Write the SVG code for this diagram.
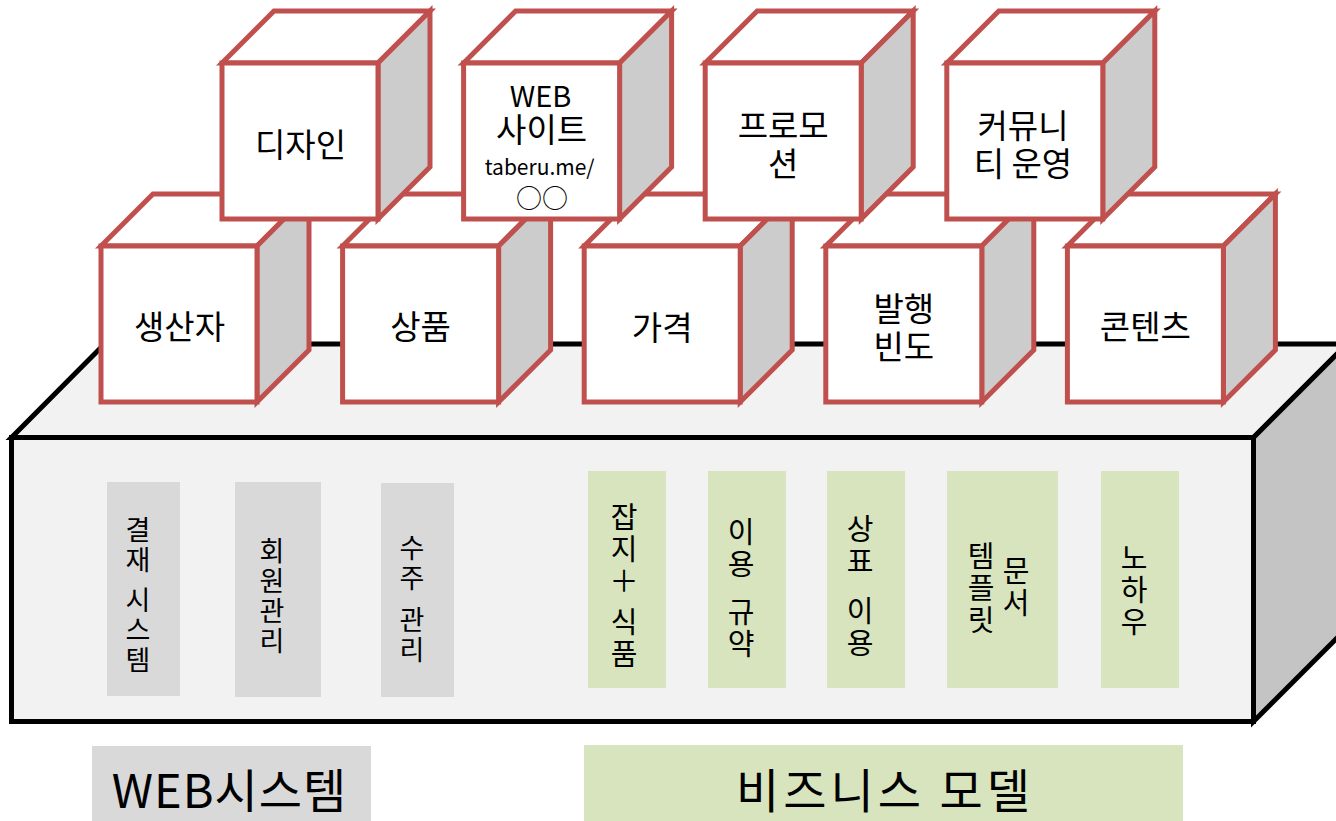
<svg xmlns="http://www.w3.org/2000/svg" width="1336" height="821" viewBox="0 0 1336 821">
<style>
text{font-family:"Noto Sans CJK KR","Noto Sans",sans-serif;fill:#000}
.cf{fill:#fff;stroke:#c0504d;stroke-width:5;stroke-linejoin:miter}
.cs{fill:#cccccc;stroke:#c0504d;stroke-width:5;stroke-linejoin:miter}
.bf{fill:#f2f2f2;stroke:#000;stroke-width:5;stroke-linejoin:miter}
.bs{fill:#c4c4c4;stroke:#000;stroke-width:5;stroke-linejoin:miter}
.lbl{font-size:33px;text-anchor:middle}
.vg{font-size:27px;text-anchor:middle;writing-mode:vertical-rl;text-orientation:upright;letter-spacing:3px}
.vn{font-size:29px;text-anchor:middle;writing-mode:vertical-rl;text-orientation:upright;letter-spacing:3px}
.gray{fill:#d9d9d9}
.green{fill:#d7e4bd}
</style>
<rect width="1336" height="821" fill="#fff"/>

<g id="base">
<polygon class="bf" points="11.5,437.5 104.5,344 1347,344 1253.5,437.5"/>
<polygon class="bs" points="1253.5,437.5 1347,344 1347,628 1253.5,721.5"/>
<rect class="bf" x="11.5" y="437.5" width="1242" height="284"/>
</g>

<g id="web-system-items">
<g id="kessai">
<rect class="gray" x="107" y="482" width="73" height="214"/>
<text class="vg" x="138" y="546">결재</text>
<text class="vg" x="138" y="631">시스템</text>
</g>
<g id="member">
<rect class="gray" x="235" y="482" width="86" height="215"/>
<text class="vg" x="272" y="597">회원관리</text>
</g>
<g id="order">
<rect class="gray" x="381" y="483" width="73" height="214"/>
<text class="vg" x="412" y="564">수주</text>
<text class="vg" x="412" y="636">관리</text>
</g>
</g>

<g id="business-items">
<g id="magazine">
<rect class="green" x="588" y="471" width="78" height="217"/>
<text class="vn" x="624" y="550">잡지＋</text>
<text class="vn" x="624" y="639">식품</text>
</g>
<g id="terms">
<rect class="green" x="708" y="471" width="78" height="217"/>
<text class="vn" x="741" y="549">이용</text>
<text class="vn" x="741" y="629">규약</text>
</g>
<g id="trademark">
<rect class="green" x="827" y="471" width="78" height="217"/>
<text class="vn" x="860" y="546">상표</text>
<text class="vn" x="860" y="628">이용</text>
</g>
<g id="template">
<rect class="green" x="947" y="471" width="111" height="217"/>
<text class="vn" x="1016" y="588">문서</text>
<text class="vn" x="981" y="589">템플릿</text>
</g>
<g id="knowhow">
<rect class="green" x="1101" y="471" width="78" height="217"/>
<text class="vn" x="1134" y="591">노하우</text>
</g>
</g>

<g id="cube-producer">
<polygon class="cf" points="101,246 153,194 309,194 257,246"/>
<polygon class="cs" points="257,246 309,194 309,350 257,402"/>
<rect class="cf" x="101" y="246" width="156" height="156"/>
<text class="lbl" x="179.5" y="339">생산자</text>
</g>
<g id="cube-product">
<polygon class="cf" points="342.6,246 394.6,194 550.6,194 498.6,246"/>
<polygon class="cs" points="498.6,246 550.6,194 550.6,350 498.6,402"/>
<rect class="cf" x="342.6" y="246" width="156" height="156"/>
<text class="lbl" x="420.6" y="339">상품</text>
</g>
<g id="cube-price">
<polygon class="cf" points="584.2,246 636.2,194 792.2,194 740.2,246"/>
<polygon class="cs" points="740.2,246 792.2,194 792.2,350 740.2,402"/>
<rect class="cf" x="584.2" y="246" width="156" height="156"/>
<text class="lbl" x="662.2" y="340">가격</text>
</g>
<g id="cube-frequency">
<polygon class="cf" points="825.8,246 877.8,194 1033.8,194 981.8,246"/>
<polygon class="cs" points="981.8,246 1033.8,194 1033.8,350 981.8,402"/>
<rect class="cf" x="825.8" y="246" width="156" height="156"/>
<text class="lbl" x="903.8" y="321">발행</text>
<text class="lbl" x="903.8" y="359">빈도</text>
</g>
<g id="cube-contents">
<polygon class="cf" points="1067.4,246 1119.4,194 1275.4,194 1223.4,246"/>
<polygon class="cs" points="1223.4,246 1275.4,194 1275.4,350 1223.4,402"/>
<rect class="cf" x="1067.4" y="246" width="156" height="156"/>
<text class="lbl" x="1145.4" y="339">콘텐츠</text>
</g>

<g id="cube-design">
<polygon class="cf" points="222,63 274,11 430,11 378,63"/>
<polygon class="cs" points="378,63 430,11 430,167 378,219"/>
<rect class="cf" x="222" y="63" width="156" height="156"/>
<text class="lbl" x="300.5" y="157">디자인</text>
</g>
<g id="cube-website">
<polygon class="cf" points="463.6,63 515.6,11 671.6,11 619.6,63"/>
<polygon class="cs" points="619.6,63 671.6,11 671.6,167 619.6,219"/>
<rect class="cf" x="463.6" y="63" width="156" height="156"/>
<text x="540.6" y="107" style="font-size:29px;text-anchor:middle">WEB</text>
<text class="lbl" x="541.6" y="142">사이트</text>
<text x="539.6" y="175" style="font-size:21px;text-anchor:middle">taberu.me/</text>
<text x="542.1" y="208" style="font-size:26px;text-anchor:middle">○○</text>
</g>
<g id="cube-promotion">
<polygon class="cf" points="705.2,63 757.2,11 913.2,11 861.2,63"/>
<polygon class="cs" points="861.2,63 913.2,11 913.2,167 861.2,219"/>
<rect class="cf" x="705.2" y="63" width="156" height="156"/>
<text class="lbl" x="783.2" y="138">프로모</text>
<text class="lbl" x="783.2" y="176">션</text>
</g>
<g id="cube-community">
<polygon class="cf" points="946.8,63 998.8,11 1154.8,11 1102.8,63"/>
<polygon class="cs" points="1102.8,63 1154.8,11 1154.8,167 1102.8,219"/>
<rect class="cf" x="946.8" y="63" width="156" height="156"/>
<text class="lbl" x="1023" y="138">커뮤니</text>
<text class="lbl" x="1023" y="176">티 운영</text>
</g>

<g id="legend-web">
<rect class="gray" x="92" y="746" width="279" height="75"/>
<text x="229.5" y="808" style="font-size:47px;text-anchor:middle;letter-spacing:1px">WEB시스템</text>
</g>
<g id="legend-business">
<rect class="green" x="584" y="745" width="599" height="76"/>
<text x="885" y="808" style="font-size:47px;text-anchor:middle;letter-spacing:4px">비즈니스 모델</text>
</g>
</svg>
